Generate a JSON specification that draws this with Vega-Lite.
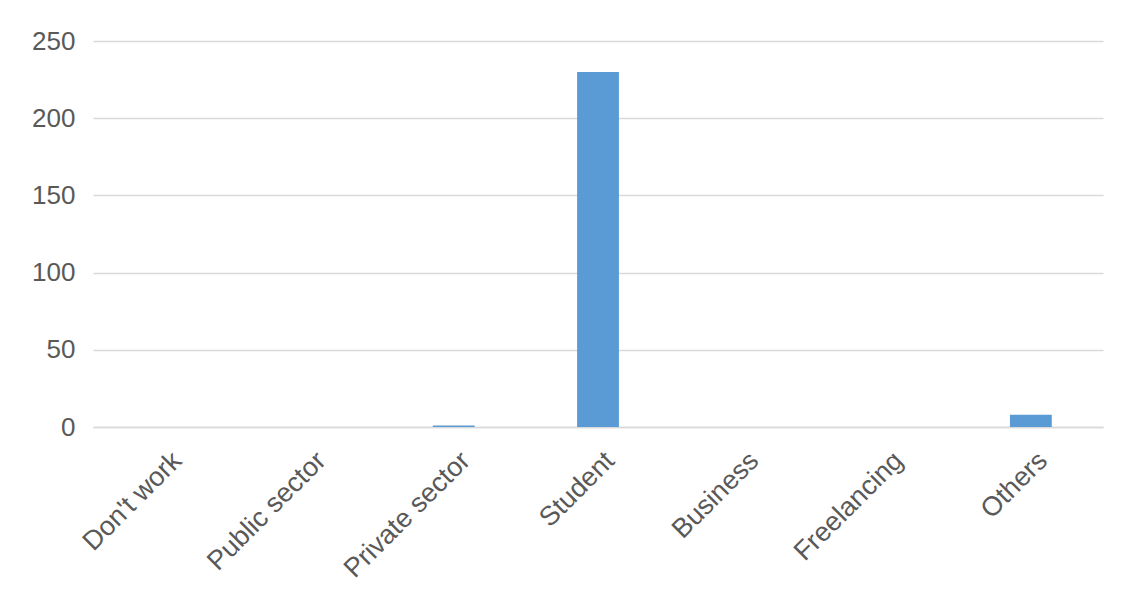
{
  "$schema": "https://vega.github.io/schema/vega-lite/v6.json",
  "autosize": {"type": "none"},
  "padding": {"left": 93, "top": 41, "right": 25, "bottom": 182},
  "width": 1010,
  "height": 386,
  "background": "white",
  "data": {"values": [
    {"category": "Don't work", "count": 0},
    {"category": "Public sector", "count": 0},
    {"category": "Private sector", "count": 1},
    {"category": "Student", "count": 230},
    {"category": "Business", "count": 0},
    {"category": "Freelancing", "count": 0},
    {"category": "Others", "count": 8}
  ]},
  "mark": {"type": "bar", "color": "#5b9bd5"},
  "encoding": {
    "x": {
      "field": "category", "type": "nominal", "sort": null,
      "scale": {"paddingInner": 0.71, "paddingOuter": 0.355},
      "axis": {"title": null, "labelAngle": -45, "labelAlign": "right", "labelBaseline": "top", "labelFontSize": 27, "labelColor": "#595959", "labelFont": "Liberation Sans", "ticks": false, "domainColor": "#d9d9d9", "domainWidth": 1.5, "labelPadding": 20, "labelOffset": 3}
    },
    "y": {
      "field": "count", "type": "quantitative",
      "scale": {"domain": [0, 250]},
      "axis": {"title": null, "values": [0, 50, 100, 150, 200, 250], "labelFontSize": 26, "labelColor": "#595959", "labelFont": "Liberation Sans", "ticks": false, "domain": false, "gridColor": "#d9d9d9", "gridWidth": 1.5, "labelPadding": 18}
    }
  },
  "config": {"view": {"stroke": null}}
}
